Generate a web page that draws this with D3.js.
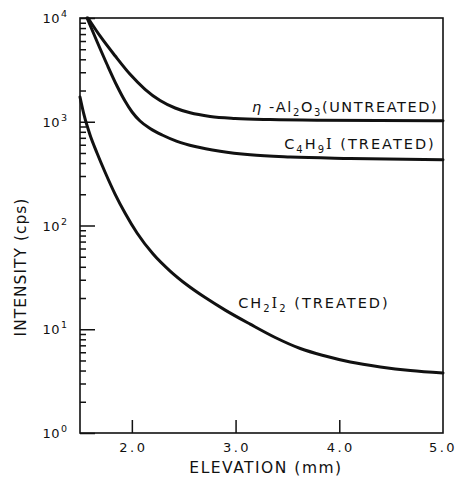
<!DOCTYPE html>
<html>
<head>
<meta charset="utf-8">
<script src="https://cdn.jsdelivr.net/npm/d3@7"></script>
<style>
  html, body { margin: 0; padding: 0; background: #fff; }
  svg { display: block; }
  text { font-family: "DejaVu Sans", sans-serif; fill: #111; }
</style>
</head>
<body>
<svg id="chart" width="458" height="477"></svg>
<script>
// ---- data ----
const xTicks = [2.0, 3.0, 4.0, 5.0];
const xTickLabels = ["2.0", "3.0", "4.0", "5.0"];
const yTicks = [1, 10, 100, 1000, 10000];
const yTickExponents = ["0", "1", "2", "3", "4"];

const al2o3Elev = [1.577, 1.693, 1.838, 1.983, 2.127, 2.272, 2.417, 2.562, 2.755, 2.996, 3.334, 3.817, 5.0];
const al2o3Int  = [10000, 6709, 4323, 2866, 2055, 1602, 1357, 1220, 1126, 1077, 1049, 1033, 1021];

const c4h9iElev = [1.568, 1.664, 1.761, 1.857, 1.934, 2.002, 2.079, 2.176, 2.292, 2.436, 2.61, 2.851, 3.141, 3.527, 4.106, 5.0];
const c4h9iInt  = [10000, 5937, 3563, 2212, 1585, 1242, 1017, 861, 745, 648, 577, 520, 480, 457, 443, 430];

const ch2i2Elev = [1.5, 1.539, 1.597, 1.664, 1.741, 1.838, 1.934, 2.05, 2.205, 2.369, 2.533, 2.707, 2.9, 3.141, 3.382, 3.624, 3.865, 4.106, 4.396, 4.685, 5.0];
const ch2i2Int  = [1733, 1162, 745, 500, 328, 201, 132, 84.7, 53.1, 36.4, 26.7, 20.2, 15.3, 11.2, 8.33, 6.52, 5.52, 4.83, 4.33, 4.0, 3.79];

// ---- layout ----
const svg = d3.select("#chart");
const pLeft = 80, pRight = 443, pTop = 18, pBottom = 433;

const x = d3.scaleLinear().domain([1.5, 5.0]).range([pLeft, pRight]);
const y = d3.scaleLog().domain([1, 10000]).range([pBottom, pTop]);

const plot = svg.append("g");

// frame
plot.append("rect")
  .attr("x", pLeft).attr("y", pTop)
  .attr("width", pRight - pLeft).attr("height", pBottom - pTop)
  .attr("fill", "none").attr("stroke", "#111").attr("stroke-width", 1.6);

// y axis (ticks inside)
const minorVals = [];
for (let d = 1; d < 10000; d *= 10) for (let k = 2; k <= 9; k++) minorVals.push(d * k);
const yAxisMinor = d3.axisRight(y).tickValues(minorVals).tickSize(6).tickFormat("");
const yAxisMajor = d3.axisRight(y).tickValues(yTicks).tickSize(15).tickFormat("");
[yAxisMinor, yAxisMajor].forEach(ax => {
  const g = plot.append("g").attr("transform", `translate(${pLeft},0)`).call(ax);
  g.select(".domain").remove();
  g.selectAll("line").attr("stroke", "#111").attr("stroke-width", 1.5);
});

// x axis (ticks inside, upward)
const xg = plot.append("g").attr("transform", `translate(0,${pBottom})`)
  .call(d3.axisTop(x).tickValues([2.0, 3.0, 4.0]).tickSize(13).tickFormat(""));
xg.select(".domain").remove();
xg.selectAll("line").attr("stroke", "#111").attr("stroke-width", 1.5);

// x tick labels
svg.append("g").selectAll("text").data(xTicks).join("text")
  .attr("x", (d, i) => x(d) + (i === 3 ? 0 : 1.5))
  .attr("y", 452)
  .attr("text-anchor", "middle")
  .attr("font-size", 13)
  .attr("letter-spacing", 2.5)
  .text((d, i) => xTickLabels[i]);

// y tick labels 10^n
svg.append("g").selectAll("text").data(yTicks).join("text")
  .attr("x", 60)
  .attr("y", d => y(d) + 5)
  .attr("text-anchor", "end")
  .attr("font-size", 13)
  .attr("letter-spacing", 0.5)
  .text("10");
svg.append("g").selectAll("text").data(yTicks).join("text")
  .attr("x", 61)
  .attr("y", d => y(d) - 1)
  .attr("font-size", 9.5)
  .text((d, i) => yTickExponents[i]);

// axis titles
svg.append("text")
  .attr("x", 266).attr("y", 473)
  .attr("text-anchor", "middle")
  .attr("font-size", 15.5)
  .attr("letter-spacing", 1.5)
  .text("ELEVATION  (mm)");

svg.append("text")
  .attr("transform", "translate(26,267) rotate(-90)")
  .attr("text-anchor", "middle")
  .attr("font-size", 15.5)
  .attr("letter-spacing", 1)
  .text("INTENSITY  (cps)");

// curves
const line = d3.line()
  .x(d => x(d[0]))
  .y(d => y(d[1]))
  .curve(d3.curveMonotoneX);

const series = [
  [al2o3Elev, al2o3Int],
  [c4h9iElev, c4h9iInt],
  [ch2i2Elev, ch2i2Int]
];
series.forEach(([xs, ys]) => {
  plot.append("path")
    .datum(xs.map((e, i) => [e, ys[i]]))
    .attr("d", line)
    .attr("fill", "none")
    .attr("stroke", "#111")
    .attr("stroke-width", 3)
    .attr("stroke-linecap", "round");
});

// curve labels
function addLabel(parts, xv, yv, anchor, ls) {
  const t = svg.append("text")
    .attr("x", x(xv)).attr("y", y(yv))
    .attr("text-anchor", anchor)
    .attr("font-size", 14.5)
    .attr("letter-spacing", ls);
  parts.forEach(p => {
    const s = t.append("tspan").text(p.t);
    if (p.sub) s.attr("font-size", 10).attr("dy", 4);
    if (p.up) s.attr("dy", -4);
    if (p.serif) s.attr("font-family", "DejaVu Serif");
    if (p.italic) s.attr("font-style", "italic");
  });
}

// η-Al2O3 (UNTREATED)
addLabel([
  {t: "η", italic: true}, {t: " -Al"}, {t: "2", sub: true}, {t: "O", up: true},
  {t: "3", sub: true}, {t: "(UNTREATED)", up: true}
], 4.955, 1240, "end", 1.6);

// C4H9I (TREATED)
addLabel([
  {t: "C"}, {t: "4", sub: true}, {t: "H", up: true}, {t: "9", sub: true},
  {t: "I", serif: true, up: true}, {t: " (TREATED)"}
], 4.93, 546, "end", 2.0);

// CH2I2 (TREATED)
addLabel([
  {t: "CH"}, {t: "2", sub: true}, {t: "I", serif: true, up: true}, {t: "2", sub: true},
  {t: " (TREATED)", up: true}
], 3.025, 16, "start", 2.0);
</script>
</body>
</html>
